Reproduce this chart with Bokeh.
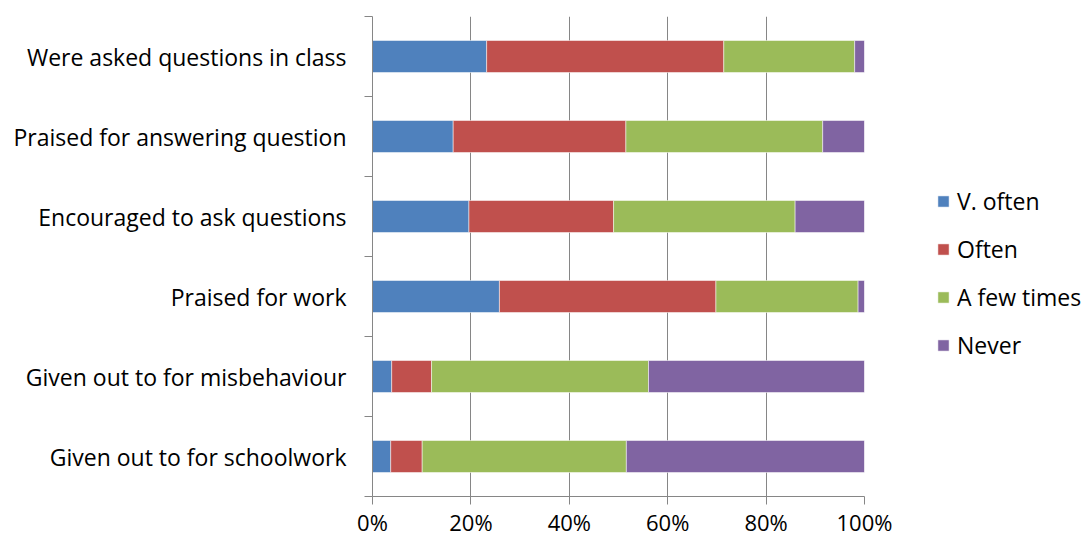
from bokeh.plotting import figure
from bokeh.models import FixedTicker, Legend, LegendItem, ColumnDataSource, PrintfTickFormatter, Range1d
from bokeh.embed import file_html
from bokeh.resources import INLINE

categories = ["Were asked questions in class", "Praised for answering question",
              "Encouraged to ask questions", "Praised for work",
              "Given out to for misbehaviour", "Given out to for schoolwork"]
series = ["V. often", "Often", "A few times", "Never"]
v_often = [23.2, 16.4, 19.6, 25.8, 3.9, 3.7]
often = [48.2, 35.1, 29.4, 44.0, 8.1, 6.4]
few_times = [26.6, 40.0, 36.9, 28.9, 44.1, 41.5]
never = [2.0, 8.5, 14.1, 1.3, 43.9, 48.4]
x_ticks = [0, 20, 40, 60, 80, 100]
colors = ["#4F81BD", "#C0504D", "#9BBB59", "#8064A2"]

n = len(categories)
ypos = [n - i - 0.5 for i in range(n)]
src = ColumnDataSource(dict(y=ypos, **{"V. often": v_often, "Often": often,
                                       "A few times": few_times, "Never": never}))

p = figure(frame_width=492, frame_height=480, output_backend="svg", toolbar_location=None,
           x_range=Range1d(0, 100), y_range=Range1d(0, n),
           min_border_left=372, min_border_right=0, min_border_top=16, min_border_bottom=40)
p.outline_line_color = None
p.background_fill_color = "white"

rs = p.hbar_stack(series, y="y", height=0.4, color=colors, source=src,
                  line_color="white", line_width=0.5)

font = "Open Sans"
fs = "23px"
gray = "#868686"

p.xaxis.ticker = FixedTicker(ticks=x_ticks)
p.xaxis.formatter = PrintfTickFormatter(format="%d%%")
p.xaxis.axis_line_color = gray
p.xaxis.major_tick_line_color = gray
p.xaxis.major_tick_out = 8
p.xaxis.major_tick_in = 0
p.xaxis.minor_tick_line_color = None
p.xaxis.major_label_text_font = font
p.xaxis.major_label_text_font_size = "22px"
p.xaxis.major_label_text_color = "black"
p.xaxis.major_label_standoff = 2

p.yaxis.ticker = FixedTicker(ticks=ypos, minor_ticks=list(range(n + 1)))
p.yaxis.major_label_overrides = {y: c for y, c in zip(ypos, categories)}
p.yaxis.axis_line_color = gray
p.yaxis.major_tick_line_color = None
p.yaxis.major_tick_out = 0
p.yaxis.major_tick_in = 0
p.yaxis.minor_tick_line_color = gray
p.yaxis.minor_tick_out = 8
p.yaxis.minor_tick_in = 0
p.yaxis.major_label_text_font = font
p.yaxis.major_label_text_font_size = fs
p.yaxis.major_label_text_color = "black"
p.yaxis.major_label_standoff = 18

p.xgrid.ticker = FixedTicker(ticks=x_ticks)
p.xgrid.grid_line_color = gray
p.xgrid.grid_line_width = 1
p.ygrid.grid_line_color = None

legend = Legend(items=[LegendItem(label=s, renderers=[r]) for s, r in zip(series, rs)],
                location=(72, 135), orientation="vertical")
legend.glyph_width = 14
legend.glyph_height = 14
legend.label_height = 20
legend.label_standoff = 7
legend.spacing = 16
legend.padding = 0
legend.margin = 0
legend.border_line_color = None
legend.background_fill_alpha = 0
legend.label_text_font = font
legend.label_text_font_size = fs
legend.label_text_color = "black"
p.add_layout(legend, "right")

open("out.html", "w").write(file_html(p, INLINE))
